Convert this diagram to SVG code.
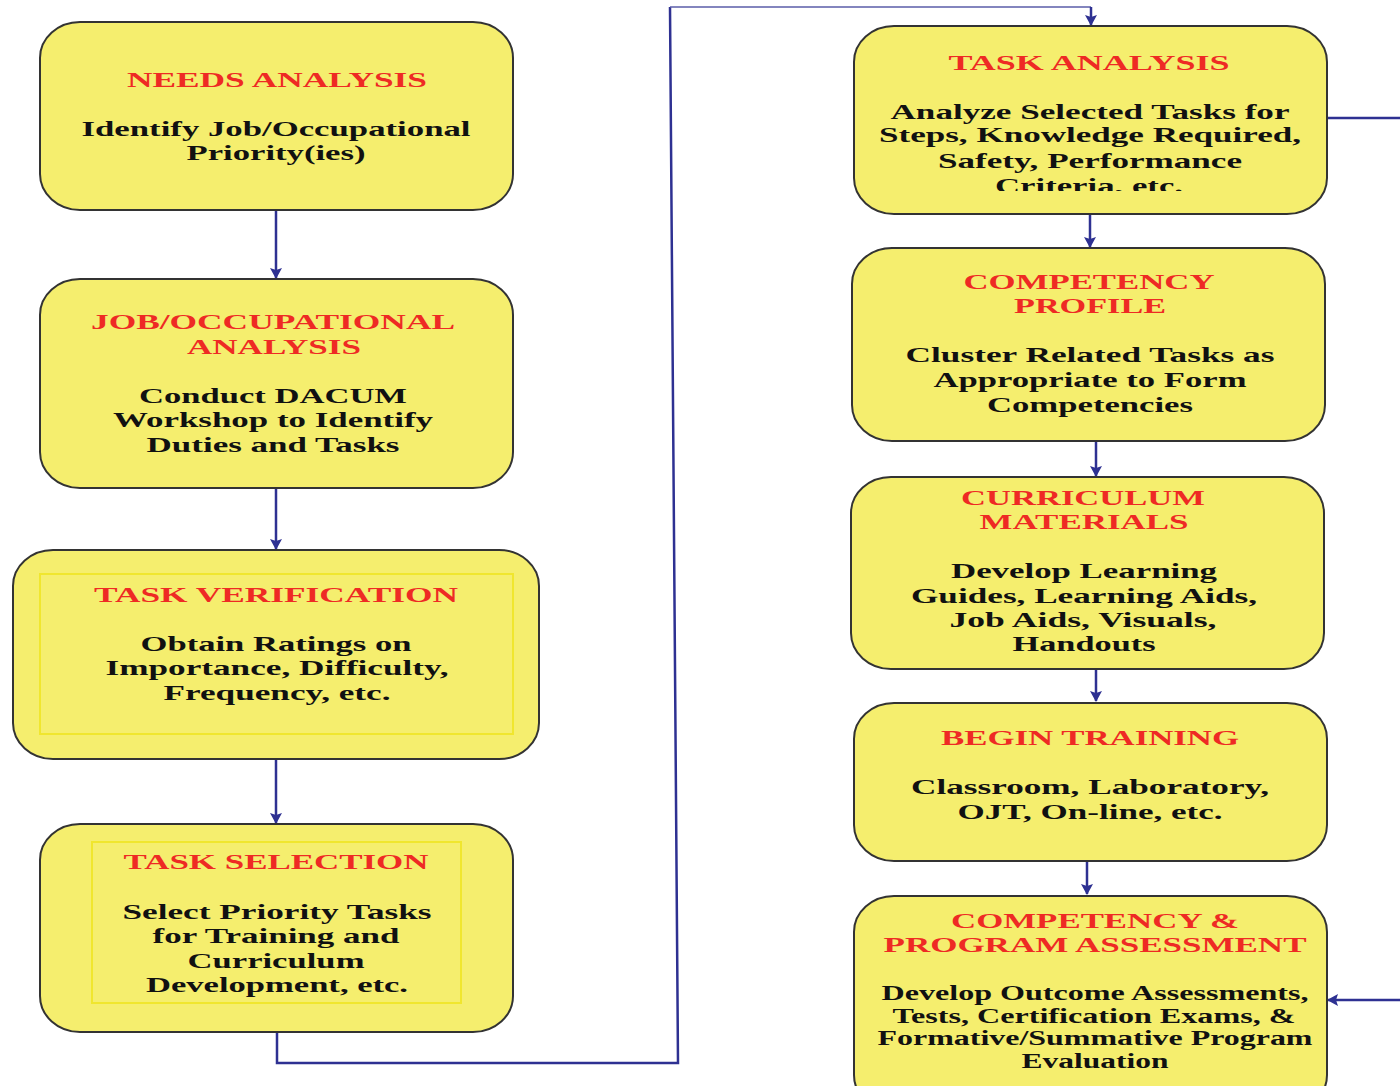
<svg xmlns="http://www.w3.org/2000/svg" width="1400" height="1086" viewBox="0 0 1400 1086">
<style>
.box{fill:#f5ee6e;stroke:#333333;stroke-width:2}
.inner{fill:none;stroke:#f0e62e;stroke-width:2}
.t{font-family:"Liberation Serif","Times New Roman",serif;font-weight:bold;font-size:21px;fill:#ee2a24;text-anchor:middle}
.b{font-family:"Liberation Serif","Times New Roman",serif;font-weight:bold;font-size:22px;fill:#111111;text-anchor:middle}
.s{font-size:20px}
.c{fill:none;stroke:#2e3192;stroke-width:2.5}
.thin{fill:none;stroke:#5a5ca8;stroke-width:1.3}
</style>
<defs>
<marker id="ah" markerWidth="11" markerHeight="12" refX="10" refY="6" orient="auto" markerUnits="userSpaceOnUse" viewBox="0 0 11 12">
<path d="M0,0 L11,6 L0,12 L2,6 z" fill="#2e3192"/>
</marker>
<clipPath id="clipTA"><rect x="850" y="20" width="480" height="171"/></clipPath>
</defs>
<rect width="1400" height="1086" fill="#ffffff"/>

<g id="connectors">
<line class="c" x1="276" y1="210" x2="276" y2="278" marker-end="url(#ah)"/>
<line class="c" x1="276" y1="488" x2="276" y2="549" marker-end="url(#ah)"/>
<line class="c" x1="276" y1="759" x2="276" y2="823" marker-end="url(#ah)"/>
<polyline class="c" points="277,1032 277,1063 678,1063 670,7"/>
<line class="thin" x1="670" y1="7" x2="1091" y2="7"/>
<line class="c" x1="1091" y1="7" x2="1091" y2="25" marker-end="url(#ah)"/>
<line class="c" x1="1090" y1="214" x2="1090" y2="247" marker-end="url(#ah)"/>
<line class="c" x1="1096" y1="441" x2="1096" y2="476" marker-end="url(#ah)"/>
<line class="c" x1="1096" y1="669" x2="1096" y2="701" marker-end="url(#ah)"/>
<line class="c" x1="1087" y1="861" x2="1087" y2="894" marker-end="url(#ah)"/>
<line class="c" x1="1327" y1="118" x2="1400" y2="118"/>
<line class="c" x1="1400" y1="1000" x2="1328" y2="1000" marker-end="url(#ah)"/>
</g>

<g id="needs-analysis">
<rect class="box" x="40" y="22" width="473" height="188" rx="40" ry="36"/>
<text class="t" x="277" y="87" textLength="300" lengthAdjust="spacingAndGlyphs">NEEDS ANALYSIS</text>
<text class="b" x="276" y="136" textLength="389" lengthAdjust="spacingAndGlyphs">Identify Job/Occupational</text>
<text class="b" x="276" y="160" textLength="179" lengthAdjust="spacingAndGlyphs">Priority(ies)</text>
</g>

<g id="job-occupational-analysis">
<rect class="box" x="40" y="279" width="473" height="209" rx="40" ry="36"/>
<text class="t" x="273" y="329" textLength="364" lengthAdjust="spacingAndGlyphs">JOB/OCCUPATIONAL</text>
<text class="t" x="274" y="354" textLength="174" lengthAdjust="spacingAndGlyphs">ANALYSIS</text>
<text class="b" x="273" y="403" textLength="268" lengthAdjust="spacingAndGlyphs">Conduct DACUM</text>
<text class="b" x="273" y="427" textLength="320" lengthAdjust="spacingAndGlyphs">Workshop to Identify</text>
<text class="b" x="273" y="452" textLength="253" lengthAdjust="spacingAndGlyphs">Duties and Tasks</text>
</g>

<g id="task-verification">
<rect class="box" x="13" y="550" width="526" height="209" rx="40" ry="36"/>
<rect class="inner" x="40" y="574" width="473" height="160"/>
<text class="t" x="276" y="602" textLength="364" lengthAdjust="spacingAndGlyphs">TASK VERIFICATION</text>
<text class="b" x="276" y="651" textLength="271" lengthAdjust="spacingAndGlyphs">Obtain Ratings on</text>
<text class="b" x="277" y="675" textLength="343" lengthAdjust="spacingAndGlyphs">Importance, Difficulty,</text>
<text class="b" x="277" y="700" textLength="227" lengthAdjust="spacingAndGlyphs">Frequency, etc.</text>
</g>

<g id="task-selection">
<rect class="box" x="40" y="824" width="473" height="208" rx="40" ry="36"/>
<rect class="inner" x="92" y="842" width="369" height="161"/>
<text class="t" x="276" y="869" textLength="305" lengthAdjust="spacingAndGlyphs">TASK SELECTION</text>
<text class="b" x="277" y="919" textLength="309" lengthAdjust="spacingAndGlyphs">Select Priority Tasks</text>
<text class="b" x="276" y="943" textLength="247" lengthAdjust="spacingAndGlyphs">for Training and</text>
<text class="b" x="276" y="968" textLength="177" lengthAdjust="spacingAndGlyphs">Curriculum</text>
<text class="b" x="277" y="992" textLength="262" lengthAdjust="spacingAndGlyphs">Development, etc.</text>
</g>

<g id="task-analysis">
<rect class="box" x="854" y="26" width="473" height="188" rx="40" ry="36"/>
<text class="t" x="1089" y="70" textLength="281" lengthAdjust="spacingAndGlyphs">TASK ANALYSIS</text>
<text class="b" x="1090" y="119" textLength="399" lengthAdjust="spacingAndGlyphs">Analyze Selected Tasks for</text>
<text class="b" x="1090" y="142" textLength="422" lengthAdjust="spacingAndGlyphs">Steps, Knowledge Required,</text>
<text class="b" x="1090" y="168" textLength="304" lengthAdjust="spacingAndGlyphs">Safety, Performance</text>
<text class="b" x="1089" y="193" textLength="188" lengthAdjust="spacingAndGlyphs" clip-path="url(#clipTA)">Criteria, etc.</text>
</g>

<g id="competency-profile">
<rect class="box" x="852" y="248" width="473" height="193" rx="40" ry="36"/>
<text class="t" x="1089" y="289" textLength="251" lengthAdjust="spacingAndGlyphs">COMPETENCY</text>
<text class="t" x="1090" y="313" textLength="152" lengthAdjust="spacingAndGlyphs">PROFILE</text>
<text class="b" x="1090" y="362" textLength="369" lengthAdjust="spacingAndGlyphs">Cluster Related Tasks as</text>
<text class="b" x="1090" y="387" textLength="313" lengthAdjust="spacingAndGlyphs">Appropriate to Form</text>
<text class="b" x="1090" y="412" textLength="206" lengthAdjust="spacingAndGlyphs">Competencies</text>
</g>

<g id="curriculum-materials">
<rect class="box" x="851" y="477" width="473" height="192" rx="40" ry="36"/>
<text class="t" x="1083" y="505" textLength="244" lengthAdjust="spacingAndGlyphs">CURRICULUM</text>
<text class="t" x="1084" y="529" textLength="209" lengthAdjust="spacingAndGlyphs">MATERIALS</text>
<text class="b" x="1084" y="578" textLength="266" lengthAdjust="spacingAndGlyphs">Develop Learning</text>
<text class="b" x="1084" y="603" textLength="346" lengthAdjust="spacingAndGlyphs">Guides, Learning Aids,</text>
<text class="b" x="1083" y="627" textLength="267" lengthAdjust="spacingAndGlyphs">Job Aids, Visuals,</text>
<text class="b" x="1084" y="651" textLength="143" lengthAdjust="spacingAndGlyphs">Handouts</text>
</g>

<g id="begin-training">
<rect class="box" x="854" y="703" width="473" height="158" rx="40" ry="36"/>
<text class="t" x="1090" y="745" textLength="298" lengthAdjust="spacingAndGlyphs">BEGIN TRAINING</text>
<text class="b" x="1090" y="794" textLength="358" lengthAdjust="spacingAndGlyphs">Classroom, Laboratory,</text>
<text class="b" x="1090" y="819" textLength="265" lengthAdjust="spacingAndGlyphs">OJT, On-line, etc.</text>
</g>

<g id="competency-program-assessment">
<rect class="box" x="854" y="896" width="473" height="215" rx="40" ry="36"/>
<text class="t" x="1095" y="928" textLength="288" lengthAdjust="spacingAndGlyphs">COMPETENCY &amp;</text>
<text class="t" x="1095" y="952" textLength="423" lengthAdjust="spacingAndGlyphs">PROGRAM ASSESSMENT</text>
<text class="b s" x="1095" y="1000" textLength="427" lengthAdjust="spacingAndGlyphs">Develop Outcome Assessments,</text>
<text class="b s" x="1094" y="1023" textLength="403" lengthAdjust="spacingAndGlyphs">Tests, Certification Exams, &amp;</text>
<text class="b s" x="1095" y="1045" textLength="435" lengthAdjust="spacingAndGlyphs">Formative/Summative Program</text>
<text class="b s" x="1095" y="1068" textLength="147" lengthAdjust="spacingAndGlyphs">Evaluation</text>
</g>
</svg>
